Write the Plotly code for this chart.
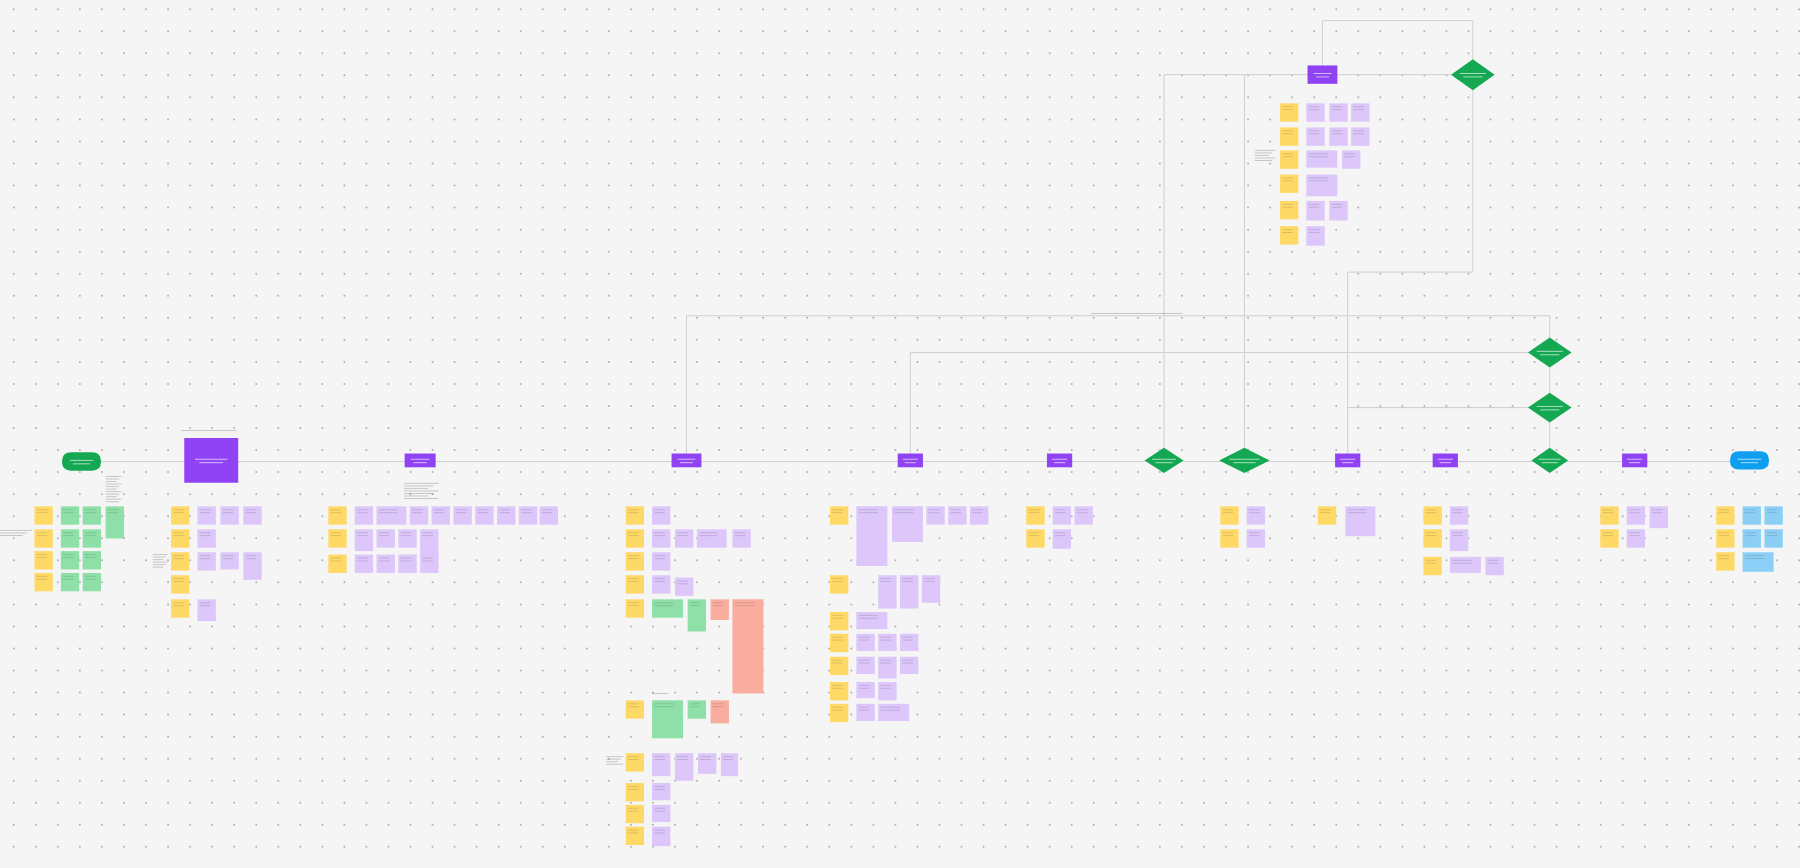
import numpy as np
import plotly.graph_objects as go

W, H = 1800, 868
SW, SH = 1568, 756  # design-space extent
BG = "#f5f5f5"
COL = {"Y": "#ffd966", "L": "#dcc6fa", "G": "#8ee0a8", "R": "#f9ad9f", "B": "#8ccff6",
       "P": "#9043f3", "D": "#14a853", "S": "#0f9fef"}

node_kind = ["round", "box", "box", "box", "box", "box", "dia", "dia", "box", "box", "dia", "box", "roundB",
             "dia", "dia", "dia", "box"]
node_cx = [71, 184, 366, 598, 793, 923, 1014, 1084, 1174, 1259, 1350, 1424, 1524, 1350, 1350, 1283, 1152]
node_cy = [402, 401, 401, 401, 401, 401, 401, 401, 401, 401, 401, 401, 401, 307, 355, 65, 65]
node_w = [34, 47, 27, 26, 22, 22, 34, 44, 22, 22, 32, 22, 34, 38, 38, 38, 26]
node_h = [16, 39, 12, 12, 12, 12, 22, 22, 12, 12, 22, 12, 16, 26, 26, 27, 16]

lines = [
    ([88, 1507], [402, 402]),
    ([598, 598, 1350, 1350], [395, 275, 275, 294]),
    ([793, 793, 1331], [395, 307, 307]),
    ([1174, 1331], [355, 355]),
    ([1174, 1174, 1283, 1283], [395, 237, 237, 78]),
    ([1014, 1014, 1264], [390, 65, 65]),
    ([1084, 1084], [390, 65]),
    ([1152, 1152, 1283, 1283], [57, 18, 18, 52]),
    ([1350, 1350], [320, 342]),
    ([1350, 1350], [368, 390]),
]

# small free-text note blocks: x0, y0, x1, y1
notes = [(92, 415, 106, 440), (0, 462, 28, 470), (133, 483, 146, 497), (158, 375, 206, 378),
         (352, 421, 382, 437), (528, 659, 543, 668), (568, 604, 582, 608), (1093, 131, 1111, 143),
         (950, 273, 1030, 275)]

cards = [
    *[("Y", 30, y, 46, y + 16) for y in (441, 461, 480, 499)],
    *[("G", 53, y, 69, y + 16) for y in (441, 461, 480, 499)],
    *[("G", 72, y, 88, y + 16) for y in (441, 461, 480, 499)],
    ("G", 92, 441, 108, 469),
    *[("Y", 149, y, 165, y + 16) for y in (441, 461, 481, 501, 522)],
    ("L", 172, 441, 188, 457), ("L", 172, 461, 188, 477), ("L", 172, 481, 188, 497),
    ("L", 192, 441, 208, 457), ("L", 192, 481, 208, 496), ("L", 212, 441, 228, 457),
    ("L", 212, 481, 228, 505), ("L", 172, 522, 188, 541),
    *[("Y", 286, y, 302, y + 16) for y in (441, 461, 483)],
    ("L", 309, 441, 325, 457), ("L", 328, 441, 354, 457), ("L", 357, 441, 373, 457),
    ("L", 376, 441, 392, 457), ("L", 395, 441, 411, 457), ("L", 414, 441, 430, 457),
    ("L", 433, 441, 449, 457), ("L", 452, 441, 468, 457), ("L", 470, 441, 486, 457),
    ("L", 309, 461, 325, 480), ("L", 328, 461, 344, 477), ("L", 347, 461, 363, 477),
    ("L", 366, 461, 382, 486), ("L", 309, 483, 325, 499), ("L", 328, 483, 344, 499),
    ("L", 347, 483, 363, 499), ("L", 366, 483, 382, 499),
    *[("Y", 545, y, 561, y + 16) for y in (441, 461, 481, 501, 522, 610, 656, 682, 701, 720)],
    ("L", 568, 441, 584, 457), ("L", 568, 461, 584, 477), ("L", 568, 481, 584, 497),
    ("L", 568, 501, 584, 517), ("L", 588, 461, 604, 477), ("L", 607, 461, 633, 477),
    ("L", 638, 461, 654, 477), ("L", 588, 503, 604, 519),
    ("G", 568, 522, 595, 538), ("G", 599, 522, 615, 550), ("R", 619, 522, 635, 540),
    ("R", 638, 522, 665, 604),
    ("G", 568, 610, 595, 643), ("G", 599, 610, 615, 626), ("R", 619, 610, 635, 630),
    ("L", 568, 656, 584, 676), ("L", 588, 656, 604, 680), ("L", 608, 656, 624, 674),
    ("L", 628, 656, 643, 676), ("L", 568, 682, 584, 697), ("L", 568, 701, 584, 716),
    ("L", 568, 720, 584, 737),
    *[("Y", 723, y, 739, y + 16) for y in (441, 501, 533, 552, 572, 594, 613)],
    ("L", 746, 441, 773, 493), ("L", 777, 441, 804, 472), ("L", 807, 441, 823, 457),
    ("L", 826, 441, 842, 457), ("L", 845, 441, 861, 457),
    ("L", 765, 501, 781, 530), ("L", 784, 501, 800, 530), ("L", 803, 501, 819, 525),
    ("L", 746, 533, 773, 548), ("L", 746, 552, 762, 567), ("L", 765, 552, 781, 567),
    ("L", 784, 552, 800, 567), ("L", 746, 572, 762, 587), ("L", 765, 572, 781, 591),
    ("L", 784, 572, 800, 587), ("L", 746, 594, 762, 608), ("L", 765, 594, 781, 610),
    ("L", 746, 613, 762, 628), ("L", 765, 613, 792, 628),
    ("Y", 894, 441, 910, 457), ("Y", 894, 461, 910, 477),
    ("L", 917, 441, 933, 457), ("L", 936, 441, 952, 457), ("L", 917, 461, 933, 478),
    ("Y", 1063, 441, 1079, 457), ("Y", 1063, 461, 1079, 477),
    ("L", 1086, 441, 1102, 457), ("L", 1086, 461, 1102, 477),
    ("Y", 1148, 441, 1164, 457), ("L", 1172, 441, 1198, 467),
    ("Y", 1240, 441, 1256, 457), ("Y", 1240, 461, 1256, 477), ("Y", 1240, 485, 1256, 501),
    ("L", 1263, 441, 1279, 457), ("L", 1263, 461, 1279, 480), ("L", 1263, 485, 1290, 499),
    ("L", 1294, 485, 1310, 501),
    ("Y", 1394, 441, 1410, 457), ("Y", 1394, 461, 1410, 477),
    ("L", 1417, 441, 1433, 457), ("L", 1417, 461, 1433, 477), ("L", 1437, 441, 1453, 460),
    ("Y", 1495, 441, 1511, 457), ("Y", 1495, 461, 1511, 477), ("Y", 1495, 481, 1511, 497),
    ("B", 1518, 441, 1534, 457), ("B", 1537, 441, 1553, 457), ("B", 1518, 461, 1534, 477),
    ("B", 1537, 461, 1553, 477), ("B", 1518, 481, 1545, 498),
    *[("Y", 1115, y, 1131, y + 16) for y in (90, 111, 131, 152, 175, 197)],
    ("L", 1138, 90, 1154, 106), ("L", 1158, 90, 1174, 106), ("L", 1177, 90, 1193, 106),
    ("L", 1138, 111, 1154, 127), ("L", 1158, 111, 1174, 127), ("L", 1177, 111, 1193, 127),
    ("L", 1138, 131, 1165, 146), ("L", 1169, 131, 1185, 147), ("L", 1138, 152, 1165, 171),
    ("L", 1138, 175, 1154, 192), ("L", 1158, 175, 1174, 192), ("L", 1138, 197, 1154, 214),
]

fig = go.Figure()
gx, gy = np.meshgrid(np.arange(12, SW, 19.2), np.arange(8, SH, 19.2))
fig.add_trace(go.Scatter(x=gx.ravel(), y=gy.ravel(), mode="markers",
                         marker=dict(size=2, color="#b0b0b0"), hoverinfo="skip", showlegend=False))

for xs, ys in lines:
    fig.add_trace(go.Scatter(x=xs, y=ys, mode="lines", line=dict(color="#cfcfcf", width=1),
                             hoverinfo="skip", showlegend=False))

shapes = []
for x0, y0, x1, y1 in notes:
    n = max(1, int((y1 - y0) / 2.2))
    for k in range(n):
        yy = y0 + k * 2.2
        shapes.append(dict(type="line", x0=x0, x1=x1 - (k % 3) * (x1 - x0) * 0.15, y0=yy, y1=yy,
                           line=dict(color="rgba(70,70,70,0.45)", width=0.6), layer="above"))

for c, x0, y0, x1, y1 in cards:
    shapes.append(dict(type="rect", x0=x0, y0=y0, x1=x1, y1=y1, fillcolor=COL[c],
                       line=dict(width=0), layer="above"))
    for k in range(2):
        yy = y0 + 3 + k * 2.5
        shapes.append(dict(type="line", x0=x0 + 2, x1=x0 + (x1 - x0) * 0.7, y0=yy, y1=yy,
                           line=dict(color="rgba(60,60,60,0.3)", width=0.6), layer="above"))

for k, cx, cy, w, h in zip(node_kind, node_cx, node_cy, node_w, node_h):
    x0, x1, y0, y1 = cx - w / 2, cx + w / 2, cy - h / 2, cy + h / 2
    if k == "box":
        shapes.append(dict(type="rect", x0=x0, x1=x1, y0=y0, y1=y1, fillcolor=COL["P"],
                           line=dict(width=0), layer="above"))
    elif k == "dia":
        shapes.append(dict(type="path", path=f"M {x0},{cy} L {cx},{y0} L {x1},{cy} L {cx},{y1} Z",
                           fillcolor=COL["D"], line=dict(width=0), layer="above"))
    else:
        r = h / 2
        col = COL["D"] if k == "round" else COL["S"]
        shapes.append(dict(type="path",
                           path=f"M {x0+r},{y0} L {x1-r},{y0} Q {x1},{y0} {x1},{cy} Q {x1},{y1} {x1-r},{y1} "
                                f"L {x0+r},{y1} Q {x0},{y1} {x0},{cy} Q {x0},{y0} {x0+r},{y0} Z",
                           fillcolor=col, line=dict(width=0), layer="above"))
    shapes.append(dict(type="line", x0=cx - w * 0.3, x1=cx + w * 0.3, y0=cy - 1, y1=cy - 1,
                       line=dict(color="rgba(255,255,255,0.8)", width=0.8), layer="above"))
    shapes.append(dict(type="line", x0=cx - w * 0.22, x1=cx + w * 0.22, y0=cy + 2, y1=cy + 2,
                       line=dict(color="rgba(255,255,255,0.8)", width=0.8), layer="above"))

fig.update_layout(width=W, height=H, margin=dict(l=0, r=0, t=0, b=0),
                  paper_bgcolor=BG, plot_bgcolor=BG, shapes=shapes,
                  xaxis=dict(range=[0, SW], visible=False, fixedrange=True),
                  yaxis=dict(range=[SH, 0], visible=False, fixedrange=True))
fig.write_html("out.html", config={"displayModeBar": False},
               post_script="document.body.style.margin='0';document.body.style.background='#f5f5f5';")
